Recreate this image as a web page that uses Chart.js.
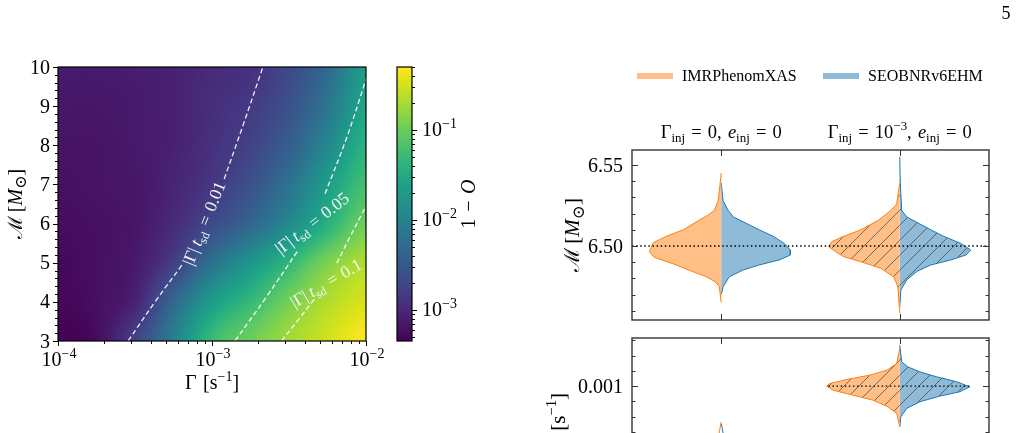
<!DOCTYPE html>
<html>
<head>
<meta charset="utf-8">
<script src="https://cdn.jsdelivr.net/npm/chart.js@4.4.1/dist/chart.umd.min.js"></script>
<style>
  html, body { margin: 0; padding: 0; background: #fff; overflow: hidden; width: 1018px; height: 433px; }
  canvas { position: absolute; left: 0; top: 0; }
</style>
</head>
<body>
<canvas id="heat" width="1018" height="520"></canvas>
<canvas id="cbar" width="1018" height="520"></canvas>
<canvas id="mc" width="1018" height="520"></canvas>
<canvas id="gam" width="1018" height="520"></canvas>
<script>
// ---------- data ----------
// left panel: 1 - overlap on a (Gamma, chirp mass) grid, read off the colour scale
const gammaGrid = [1.0e-4, 1.8e-4, 3.2e-4, 5.6e-4, 1.0e-3, 1.8e-3, 3.2e-3, 5.6e-3, 1.0e-2];
const chirpGrid = [3, 4, 5, 6, 7, 8, 9, 10];
const mismatch = [
  [0.00045, 0.00056, 0.0018, 0.0092, 0.053, 0.107, 0.188, 0.307, 0.50],
  [0.00049, 0.00060, 0.00091, 0.0046, 0.021, 0.050, 0.115, 0.216, 0.33],
  [0.00052, 0.00060, 0.00074, 0.0016, 0.0061, 0.0173, 0.046, 0.123, 0.216],
  [0.00056, 0.00060, 0.00069, 0.00105, 0.0021, 0.0046, 0.0122, 0.0375, 0.107],
  [0.00060, 0.00064, 0.00069, 0.00091, 0.0014, 0.0026, 0.0065, 0.0214, 0.061],
  [0.00064, 0.00064, 0.00074, 0.00085, 0.00121, 0.0018, 0.0037, 0.0114, 0.040],
  [0.00069, 0.00069, 0.00074, 0.00085, 0.00113, 0.0015, 0.0026, 0.0070, 0.028],
  [0.00074, 0.00074, 0.00079, 0.00085, 0.00105, 0.00121, 0.0021, 0.0049, 0.0214]
];
const cbarRange = [4.5e-4, 0.5];

// |Gamma| t_sd contours as [Gamma, chirp mass]; null = gap for the label
const contour001 = [[2.85e-4, 3.0], [4.27e-4, 4.0], [6.38e-4, 4.94], null, [1.20e-3, 7.14], [1.60e-3, 8.54], [2.14e-3, 10.0]];
const contour005 = [[1.41e-3, 3.0], [2.26e-3, 4.13], [3.63e-3, 5.32], null, [5.42e-3, 6.76], [7.50e-3, 8.2], [9.86e-3, 9.61], [1.0e-2, 9.7]];
const contour01 = [[2.83e-3, 3.0], [3.63e-3, 3.54], [4.67e-3, 4.09], null, [6.46e-3, 4.99], [7.87e-3, 5.66], [1.0e-2, 6.45]];
const contourValues = ['0.01', '0.05', '0.1'];

const heatGammaTicks = [1e-4, 1e-3, 1e-2];
const heatChirpTicks = [3, 4, 5, 6, 7, 8, 9, 10];
const cbarTicks = [1e-3, 1e-2, 1e-1];

// right panels: half violins as [value, half width]
const models = ['IMRPhenomXAS', 'SEOBNRv6EHM'];
const injPositions = [0, 1];
const mcInjected = 6.5;
const gammaInjected = 0.001;

const mcZeroImr = [[6.545, 0], [6.528, 0.017], [6.522, 0.039], [6.519, 0.075], [6.516, 0.123], [6.510, 0.213], [6.506, 0.308], [6.502, 0.381],
  [6.4965, 0.403], [6.493, 0.375], [6.489, 0.269], [6.485, 0.179], [6.481, 0.084], [6.478, 0.035], [6.475, 0.011], [6.465, 0]];
const mcZeroSeob = [[6.539, 0], [6.528, 0.01], [6.522, 0.039], [6.518, 0.067], [6.514, 0.14], [6.510, 0.213], [6.506, 0.291], [6.5016, 0.353],
  [6.4975, 0.387], [6.4944, 0.387], [6.4914, 0.325], [6.4883, 0.213], [6.4852, 0.123], [6.481, 0.045], [6.475, 0.011], [6.470, 0]];
const mcDecayImr = [[6.539, 0], [6.526, 0.017], [6.522, 0.05], [6.516, 0.118], [6.510, 0.218], [6.506, 0.314], [6.5027, 0.381], [6.4996, 0.398],
  [6.4965, 0.359], [6.4934, 0.314], [6.4903, 0.218], [6.4862, 0.106], [6.481, 0.034], [6.475, 0.011], [6.4585, 0]];
const mcDecaySeob = [[6.555, 0], [6.539, 0.003], [6.522, 0.011], [6.518, 0.039], [6.514, 0.106], [6.510, 0.174], [6.506, 0.246], [6.5016, 0.342],
  [6.4975, 0.398], [6.4944, 0.37], [6.4914, 0.286], [6.4883, 0.174], [6.4842, 0.095], [6.479, 0.039], [6.4728, 0.006], [6.4625, 0]];

const gamZeroImr = [[0.00053, 0], [0.00046, 0.006], [0.00038, 0.012], [0.0003, 0.02]];
const gamZeroSeob = [[0.00051, 0], [0.00044, 0.006], [0.00038, 0.011], [0.0003, 0.018]];
const gamDecayImr = [[0.001493, 0], [0.001296, 0.017], [0.001209, 0.073], [0.001144, 0.168], [0.001087, 0.297], [0.001035, 0.392],
  [0.001000, 0.409], [0.000948, 0.375], [0.000882, 0.263], [0.000817, 0.151], [0.00073, 0.067], [0.000643, 0.017], [0.000468, 0]];
const gamDecaySeob = [[0.001536, 0], [0.001318, 0.011], [0.001253, 0.045], [0.001187, 0.112], [0.001122, 0.207], [0.001057, 0.319],
  [0.000991, 0.392], [0.000926, 0.336], [0.000869, 0.224], [0.000795, 0.112], [0.000708, 0.039], [0.000599, 0.006], [0.000468, 0]];

const mcTicks = [6.50, 6.55];
const gammaTicks = [0, 0.001];

// ---------- helpers ----------
const W = 1018, H = 520;
const FONT = '"Liberation Serif", "DejaVu Serif", serif';
const ORANGE = '#ff7f0e', BLUE = '#1f77b4';
const ORANGE_FILL = '#ffbf87', BLUE_FILL = '#8fbbd9';
const pad = (l, t, r, b) => ({ left: l, top: t, right: W - r, bottom: H - b });

const VIRIDIS = ['#440154', '#471365', '#482475', '#463480', '#414487', '#3b528b', '#355f8d', '#2f6c8e', '#2a788e', '#25848e', '#21918c',
  '#1e9c89', '#22a884', '#2fb47c', '#44bf70', '#5ec962', '#7ad151', '#9bd93c', '#bddf26', '#dfe318', '#fde725']
  .map(h => [1, 3, 5].map(k => parseInt(h.slice(k, k + 2), 16)));

function viridis(t) {
  t = Math.max(0, Math.min(1, t));
  const f = t * 20, k = Math.min(19, Math.floor(f)), u = f - k;
  return VIRIDIS[k].map((c, i) => Math.round(c + (VIRIDIS[k + 1][i] - c) * u));
}
const lmin = Math.log10(cbarRange[0]), lmax = Math.log10(cbarRange[1]);
const cnorm = lv => (lv - lmin) / (lmax - lmin);

function fracIndex(arr, v) {
  if (v <= arr[0]) return 0;
  for (let i = 0; i < arr.length - 1; i++) {
    if (v <= arr[i + 1]) return i + (v - arr[i]) / (arr[i + 1] - arr[i]);
  }
  return arr.length - 1;
}
function cr(p0, p1, p2, p3, t) {
  return 0.5 * (2 * p1 + (p2 - p0) * t + (2 * p0 - 5 * p1 + 4 * p2 - p3) * t * t + (3 * p1 - p0 - 3 * p2 + p3) * t * t * t);
}
function sampleGrid(grid, fi, fj) {
  const nr = grid.length, nc = grid[0].length;
  const i = Math.min(Math.floor(fi), nc - 2), j = Math.min(Math.floor(fj), nr - 2);
  const g = (r, c) => grid[Math.max(0, Math.min(nr - 1, r))][Math.max(0, Math.min(nc - 1, c))];
  const rows = [-1, 0, 1, 2].map(d => cr(g(j + d, i - 1), g(j + d, i), g(j + d, i + 1), g(j + d, i + 2), fi - i));
  return cr(rows[0], rows[1], rows[2], rows[3], fj - j);
}

// text with sub/superscripts: parts = [text, scale, dy (em), style]
function rich(ctx, parts, x, y, size, opts = {}) {
  const { align = 'left', angle = 0, color = '#000', middle = false } = opts;
  ctx.save();
  ctx.translate(x, y);
  if (angle) ctx.rotate(angle);
  ctx.fillStyle = color;
  ctx.textAlign = 'left';
  ctx.textBaseline = 'alphabetic';
  const widths = parts.map(([t, s = 1, dy = 0, st = '']) => {
    ctx.font = `${st} ${size * s}px ${FONT}`;
    return ctx.measureText(t).width;
  });
  const total = widths.reduce((p, c) => p + c, 0);
  let cx = align === 'center' ? -total / 2 : align === 'right' ? -total : 0;
  const by = middle ? size * 0.33 : 0;
  parts.forEach(([t, s = 1, dy = 0, st = ''], i) => {
    ctx.font = `${st} ${size * s}px ${FONT}`;
    ctx.fillText(t, cx, by + dy * size);
    cx += widths[i];
  });
  ctx.restore();
}
const SUP = -0.42, SUB = 0.22;
const EQ = '\u2004=\u2004';
const pow10 = v => [['10'], ['\u2212' + Math.abs(Math.round(Math.log10(v))), 0.7, SUP]];
const chirpLabel = [['\u2133\u2009['], ['M', 1, 0, 'italic'], ['\u2299', 0.8, SUB], [']']];
const gammaLabel = [['\u0393\u2004[s'], ['\u22121', 0.7, SUP], [']']];

function seg(ctx, x1, y1, x2, y2) {
  ctx.beginPath(); ctx.moveTo(x1, y1); ctx.lineTo(x2, y2); ctx.stroke();
}
function minorLog(min, max) {
  const out = [];
  for (let d = Math.floor(Math.log10(min)); d <= Math.ceil(Math.log10(max)); d++) {
    for (let k = 2; k <= 9; k++) { const v = k * Math.pow(10, d); if (v >= min && v <= max) out.push(v); }
  }
  return out;
}
function segments(points) {
  const out = [[]];
  points.forEach(p => p ? out[out.length - 1].push({ x: p[0], y: p[1] }) : out.push([]));
  return out;
}
const baseOptions = (padding, scales) => ({
  responsive: false, animation: false, devicePixelRatio: 1, events: [],
  layout: { padding },
  plugins: { legend: { display: false }, tooltip: { enabled: false } },
  elements: { point: { radius: 0 } },
  scales
});

// ---------- left: heat map ----------
const heatPlugin = {
  id: 'heatmap',
  beforeDatasetsDraw(chart) {
    const { ctx, chartArea: a, scales: { x, y } } = chart;
    const w = Math.round(a.right - a.left), h = Math.round(a.bottom - a.top);
    const img = ctx.createImageData(w, h);
    const lg = gammaGrid.map(Math.log10);
    const logMis = mismatch.map(r => r.map(Math.log10));
    const cols = [];
    for (let i = 0; i < w; i++) cols.push(fracIndex(lg, Math.log10(x.getValueForPixel(a.left + i + 0.5))));
    for (let j = 0; j < h; j++) {
      const fj = fracIndex(chirpGrid, y.getValueForPixel(a.top + j + 0.5));
      for (let i = 0; i < w; i++) {
        const c = viridis(cnorm(sampleGrid(logMis, cols[i], fj)));
        const k = (j * w + i) * 4;
        img.data[k] = c[0]; img.data[k + 1] = c[1]; img.data[k + 2] = c[2]; img.data[k + 3] = 255;
      }
    }
    ctx.putImageData(img, Math.round(a.left), Math.round(a.top));
  },
  afterDraw(chart) {
    const { ctx, chartArea: a, scales: { x, y } } = chart;
    ctx.save();
    ctx.strokeStyle = '#000';
    ctx.lineWidth = 1;
    minorLog(x.min, x.max).forEach(v => { const p = Math.round(x.getPixelForValue(v)) + 0.5; seg(ctx, p, a.bottom, p, a.bottom + 3); });
    heatGammaTicks.forEach(v => { const p = Math.round(x.getPixelForValue(v)) + 0.5; seg(ctx, p, a.bottom, p, a.bottom + 5); });
    for (let m = y.min; m <= y.max + 1e-9; m += 0.2) {
      const p = Math.round(y.getPixelForValue(m)) + 0.5;
      seg(ctx, a.left, p, a.left - 3, p);
    }
    heatChirpTicks.forEach(v => { const p = Math.round(y.getPixelForValue(v)) + 0.5; seg(ctx, a.left, p, a.left - 5, p); });
    ctx.lineWidth = 1.2;
    ctx.strokeRect(a.left, a.top, a.right - a.left, a.bottom - a.top);

    heatGammaTicks.forEach(v => rich(ctx, pow10(v), x.getPixelForValue(v) + 1, a.bottom + 25, 20, { align: 'center' }));
    heatChirpTicks.forEach(v => rich(ctx, [[String(v)]], a.left - 8, y.getPixelForValue(v), 20, { align: 'right', middle: true }));
    rich(ctx, gammaLabel, (a.left + a.right) / 2, a.bottom + 48, 20, { align: 'center' });
    rich(ctx, chirpLabel, 15, (a.top + a.bottom) / 2, 20, { align: 'center', angle: -Math.PI / 2, middle: true });

    // contour labels, placed in data coordinates
    const spots = [[8.87e-4, 6.01, -68], [4.46e-3, 6.01, -38], [5.5e-3, 4.48, -30.5]];
    spots.forEach(([g, m, ang], i) => {
      rich(ctx, [['|\u0393|\u2009'], ['t', 1, 0, 'italic'], ['sd', 0.7, SUB], [EQ + contourValues[i]]],
        x.getPixelForValue(g), y.getPixelForValue(m), 17.5, { align: 'center', angle: ang * Math.PI / 180, middle: true, color: '#f4f4f4' });
    });
    ctx.restore();
  }
};

const contourSets = [];
[contour001, contour005, contour01].forEach(c => segments(c).forEach(s => contourSets.push({
  data: s, borderColor: 'rgba(255,255,255,0.92)', borderWidth: 1.3, borderDash: [5, 3],
  tension: 0.4, fill: false, pointRadius: 0
})));

new Chart(document.getElementById('heat'), {
  type: 'line',
  data: { datasets: contourSets },
  options: baseOptions(pad(58, 67, 366, 341), {
    x: { type: 'logarithmic', min: 1e-4, max: 1e-2, display: false },
    y: { type: 'linear', min: 3, max: 10, display: false }
  }),
  plugins: [heatPlugin]
});

// ---------- colour bar ----------
const cbarPlugin = {
  id: 'colorbar',
  beforeDatasetsDraw(chart) {
    const { ctx, chartArea: a, scales: { y } } = chart;
    for (let py = Math.floor(a.top); py < a.bottom; py++) {
      const c = viridis(cnorm(Math.log10(y.getValueForPixel(py + 0.5))));
      ctx.fillStyle = `rgb(${c[0]},${c[1]},${c[2]})`;
      ctx.fillRect(a.left, py, a.right - a.left, 1);
    }
  },
  afterDraw(chart) {
    const { ctx, chartArea: a, scales: { y } } = chart;
    ctx.save();
    ctx.strokeStyle = '#000';
    ctx.lineWidth = 1;
    minorLog(y.min, y.max).forEach(v => { const p = Math.round(y.getPixelForValue(v)) + 0.5; seg(ctx, a.right, p, a.right + 3, p); });
    cbarTicks.forEach(v => { const p = Math.round(y.getPixelForValue(v)) + 0.5; seg(ctx, a.right, p, a.right + 5, p); });
    ctx.lineWidth = 1.2;
    ctx.strokeRect(a.left, a.top, a.right - a.left, a.bottom - a.top);
    cbarTicks.forEach(v => rich(ctx, pow10(v), a.right + 10, y.getPixelForValue(v), 20, { middle: true }));
    rich(ctx, [['1\u2004\u2212\u2004'], ['O', 1, 0, 'italic']], 468, (a.top + a.bottom) / 2, 20, { align: 'center', angle: -Math.PI / 2, middle: true });
    ctx.restore();
  }
};
new Chart(document.getElementById('cbar'), {
  type: 'line',
  data: { datasets: [] },
  options: baseOptions(pad(397, 67, 412, 341), {
    x: { type: 'linear', min: 0, max: 1, display: false },
    y: { type: 'logarithmic', min: cbarRange[0], max: cbarRange[1], display: false }
  }),
  plugins: [cbarPlugin]
});

// ---------- right: violins ----------
function hatch(canvasId, base) {
  const c = document.createElement('canvas');
  c.width = c.height = 15;
  const g = c.getContext('2d');
  g.fillStyle = base; g.fillRect(0, 0, 15, 15);
  g.strokeStyle = 'rgba(50,50,50,0.7)'; g.lineWidth = 0.9;
  g.beginPath();
  g.moveTo(-2, 17); g.lineTo(17, -2);
  g.moveTo(-2, 2); g.lineTo(2, -2);
  g.moveTo(13, 17); g.lineTo(17, 13);
  g.stroke();
  return document.getElementById(canvasId).getContext('2d').createPattern(c, 'repeat');
}
function half(pairs, pos, side, fill, edge) {
  return {
    data: pairs.map(([v, w]) => ({ x: pos + side * w, y: v })),
    borderColor: edge, borderWidth: 1, backgroundColor: fill, fill: 'shape',
    pointRadius: 0, tension: 0, borderJoinStyle: 'round'
  };
}
function injLine(x0, x1, v) {
  return {
    data: [{ x: x0, y: v }, { x: x1, y: v }], borderColor: '#000', borderWidth: 1.4,
    borderDash: [1.5, 2.6], pointRadius: 0, fill: false, order: -1
  };
}
function minorStep(min, max, step, majors) {
  const out = [];
  for (let k = Math.ceil(min / step - 1e-9); k <= Math.floor(max / step + 1e-9); k++) {
    const v = +(k * step).toPrecision(10);
    if (!majors.some(m => Math.abs(m - v) < step / 100)) out.push(v);
  }
  return out;
}
function violinAxes(majors, minorStepSize, digits, label, labelX, extra) {
  return {
    id: 'violinAxes',
    afterDraw(chart) {
      const { ctx, chartArea: a, scales: { x, y } } = chart;
      ctx.save();
      ctx.strokeStyle = '#333';
      ctx.lineWidth = 1;
      const inRange = v => v >= y.min && v <= y.max;
      minorStep(y.min, y.max, minorStepSize, majors).forEach(v => {
        const p = Math.round(y.getPixelForValue(v)) + 0.5;
        seg(ctx, a.left, p, a.left + 3.5, p); seg(ctx, a.right, p, a.right - 3.5, p);
      });
      majors.filter(inRange).forEach(v => {
        const p = Math.round(y.getPixelForValue(v)) + 0.5;
        seg(ctx, a.left, p, a.left + 6, p); seg(ctx, a.right, p, a.right - 6, p);
      });
      injPositions.forEach(v => {
        const p = Math.round(x.getPixelForValue(v)) + 0.5;
        seg(ctx, p, a.top, p, a.top + 6); seg(ctx, p, a.bottom, p, a.bottom - 6);
      });
      ctx.lineWidth = 1.4;
      ctx.strokeRect(a.left, a.top, a.right - a.left, a.bottom - a.top);
      majors.filter(inRange).forEach(v => rich(ctx, [[v.toFixed(digits)]], a.left - 9, y.getPixelForValue(v), 20, { align: 'right', middle: true }));
      rich(ctx, label, labelX, (a.top + a.bottom) / 2, 21, { align: 'center', angle: -Math.PI / 2, middle: true });
      if (extra) extra(chart);
      ctx.restore();
    }
  };
}

const titles = [
  [['\u0393'], ['inj', 0.7, SUB], [EQ + '0,\u2004'], ['e', 1, 0, 'italic'], ['inj', 0.7, SUB], [EQ + '0']],
  [['\u0393'], ['inj', 0.7, SUB], [EQ + '10'], ['\u22123', 0.7, SUP], [',\u2004'], ['e', 1, 0, 'italic'], ['inj', 0.7, SUB], [EQ + '0']]
];
function mcExtra(chart) {
  const { ctx, chartArea: a, scales: { x } } = chart;
  injPositions.forEach((v, i) => rich(ctx, titles[i], x.getPixelForValue(v), a.top - 12, 18.5, { align: 'center' }));
  const fills = [ORANGE_FILL, BLUE_FILL], lx = [637, 823];
  models.forEach((m, i) => {
    ctx.strokeStyle = fills[i]; ctx.lineWidth = 6;
    seg(ctx, lx[i], 76, lx[i] + 36, 76);
    rich(ctx, [[m]], lx[i] + 45, 76, 16, { middle: true });
  });
  rich(ctx, [['5']], 1006, 13, 18, { align: 'center', middle: true });
}

new Chart(document.getElementById('mc'), {
  type: 'line',
  data: {
    datasets: [
      injLine(-0.5, 1.5, mcInjected),
      half(mcZeroImr, injPositions[0], -1, ORANGE_FILL, ORANGE),
      half(mcZeroSeob, injPositions[0], 1, BLUE_FILL, BLUE),
      half(mcDecayImr, injPositions[1], -1, hatch('mc', ORANGE_FILL), ORANGE),
      half(mcDecaySeob, injPositions[1], 1, hatch('mc', BLUE_FILL), BLUE)
    ]
  },
  options: baseOptions(pad(632, 150, 989, 320), {
    x: { type: 'linear', min: -0.5, max: 1.5, display: false },
    y: { type: 'linear', min: 6.4543, max: 6.5593, display: false }
  }),
  plugins: [violinAxes(mcTicks, 0.01, 2, chirpLabel, 572, mcExtra)]
});

new Chart(document.getElementById('gam'), {
  type: 'line',
  data: {
    datasets: [
      injLine(0.6, 1.4, gammaInjected),
      half(gamZeroImr, injPositions[0], -1, ORANGE_FILL, ORANGE),
      half(gamZeroSeob, injPositions[0], 1, BLUE_FILL, BLUE),
      half(gamDecayImr, injPositions[1], -1, hatch('gam', ORANGE_FILL), ORANGE),
      half(gamDecaySeob, injPositions[1], 1, hatch('gam', BLUE_FILL), BLUE)
    ]
  },
  options: baseOptions(pad(632, 338, 989, 505), {
    x: { type: 'linear', min: -0.5, max: 1.5, display: false },
    y: { type: 'linear', min: -0.000556, max: 0.00163, display: false }
  }),
  plugins: [violinAxes(gammaTicks, 0.0002, 3, gammaLabel, 558)]
});
</script>
</body>
</html>
